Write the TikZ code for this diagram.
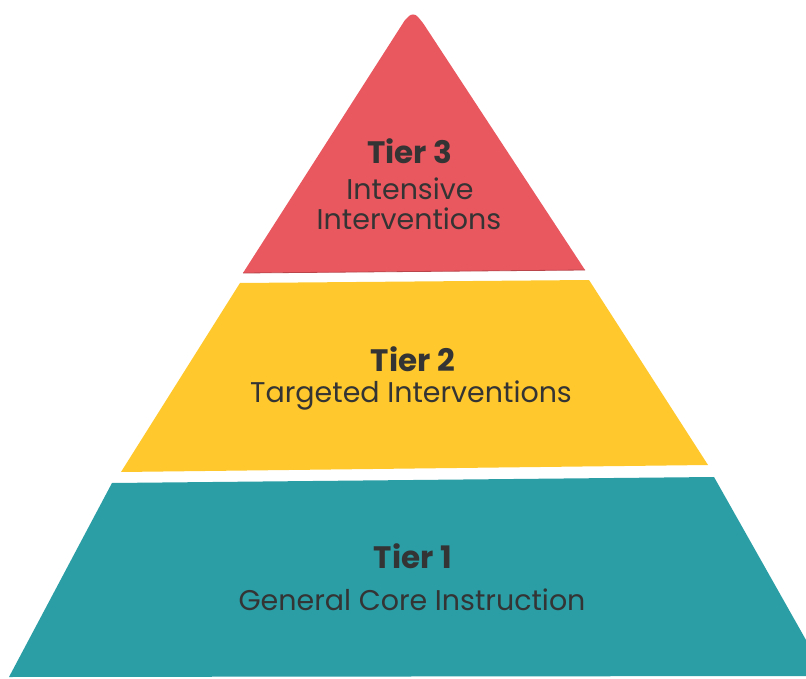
\documentclass[tikz,border=0pt]{standalone}
\usepackage{fontspec}
\setmainfont{Poppins}
\definecolor{tierred}{HTML}{E9575F}
\definecolor{tieryellow}{HTML}{FFC82C}
\definecolor{tierteal}{HTML}{2A9DA5}
\definecolor{txtdark}{HTML}{343434}
\begin{document}
\begin{tikzpicture}[x=1pt,y=-1pt,
  tierlabel/.style={text=txtdark,align=center,inner sep=0pt},
  tierhead/.style={tierlabel,font=\fontsize{31}{34}\selectfont\bfseries},
  tiersub/.style={tierlabel,font=\fontsize{28.5}{32}\selectfont}]
\useasboundingbox (0,0) rectangle (806,679);
\fill[white] (0,0) rectangle (806,679);
% Tier 3
\fill[tierred] (243,273) -- (405,20) [rounded corners=6pt] -- (413,12) -- (421,20) [sharp corners] -- (585,270) -- cycle;
\draw[tierred!80!black,line width=0.8pt] (243,273) -- (585,270);
% Tier 2
\fill[tieryellow] (240,283) -- (589,280) -- (708,465) -- (121,472) -- cycle;
% Tier 1
\fill[tierteal] (112,483) -- (714,477) -- (806,640) -- (806,676) -- (9,677) -- cycle;
% labels
\node[tierhead] (t3h) at (410,151) {Tier 3};
\node[tiersub] (t3a) at (410,189) {Intensive};
\node[tiersub] (t3b) at (409,219) {Interventions};
\node[tierhead] (t2h) at (413,359) {Tier 2};
\node[tiersub] (t2a) at (411,396) {Targeted Interventions};
\node[tierhead] (t1h) at (413,556) {Tier 1};
\node[tiersub] (t1a) at (412,600) {General Core Instruction};
\end{tikzpicture}
\end{document}
